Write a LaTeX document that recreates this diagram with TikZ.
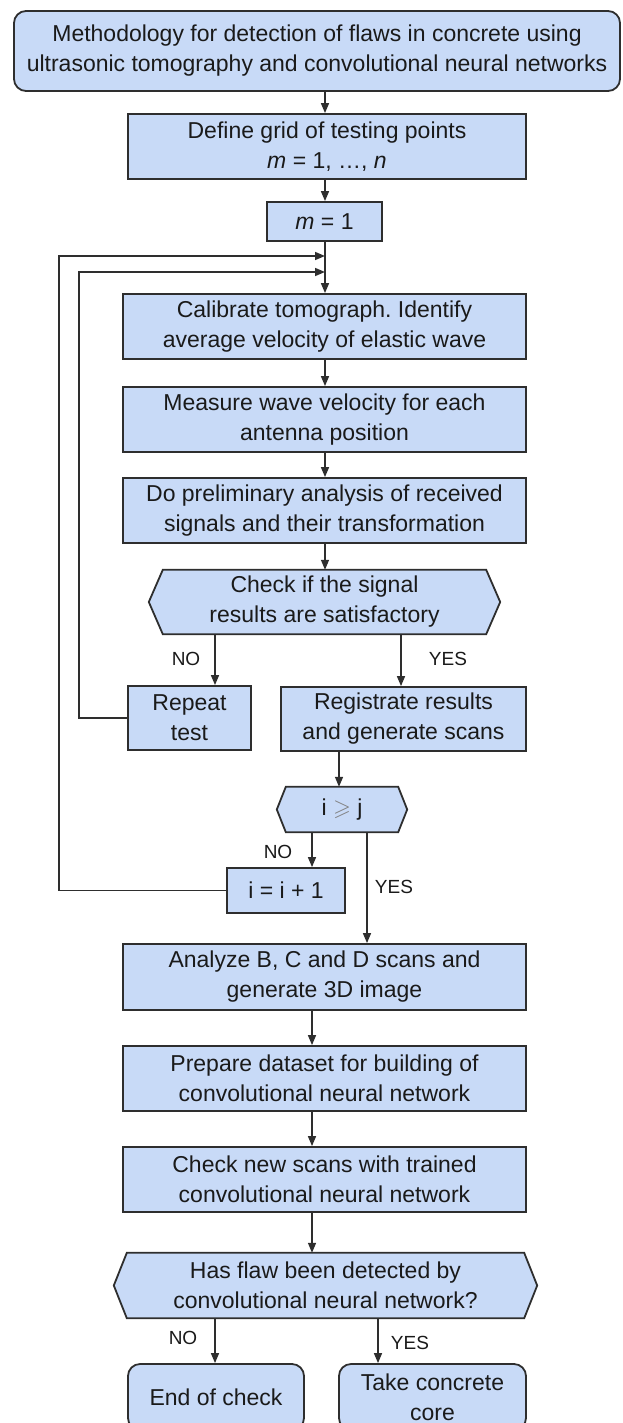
\documentclass[tikz,border=0pt]{standalone}
\usepackage{fontspec}
\setmainfont{Liberation Sans}
\usepackage{amssymb}
\usetikzlibrary{arrows.meta,calc}
\definecolor{boxfill}{HTML}{C8DAF7}
\definecolor{linec}{HTML}{2E2E2E}
\definecolor{txtc}{HTML}{1A1A1A}
\pgfdeclarelayer{bg}
\pgfsetlayers{bg,main}
\frenchspacing
\newcommand{\drawhexagon}[2]{%
  \begin{pgfonlayer}{bg}
  \draw[hexline] (#1.west) -- ($(#1.north west)+(#2,0)$) -- ($(#1.north east)+(-#2,0)$) -- (#1.east)
    -- ($(#1.south east)+(-#2,0)$) -- ($(#1.south west)+(#2,0)$) -- cycle;
  \end{pgfonlayer}}
\begin{document}
\begin{tikzpicture}[x=1pt,y=-1pt,
  box/.style={draw=linec,fill=boxfill,line width=1.8pt,inner sep=0pt,align=center,
    text=txtc,font=\fontsize{23}{30}\selectfont},
  hexnode/.style={inner sep=0pt,align=center,text=txtc,font=\fontsize{23}{30}\selectfont},
  hexline/.style={draw=linec,fill=boxfill,line width=1.8pt,line join=miter},
  lbl/.style={inner sep=0pt,text=txtc,font=\fontsize{19}{22}\selectfont},
  conn/.style={draw=linec,line width=1.5pt},
  arr/.style={conn,-{Triangle[length=10pt,width=8pt]}}]
\clip (0,0) rectangle (622,1423);
% nodes
\node[box,rounded corners=12pt,minimum width=606pt,minimum height=80pt] (title) at (317,51)
  {Methodology for detection of flaws in concrete using\\ultrasonic tomography and convolutional neural networks};
\node[box,minimum width=398pt,minimum height=65pt] (grid) at (327,146.5)
  {Define grid of testing points\\\textit{m} = 1, …, \textit{n}};
\node[box,minimum width=115pt,minimum height=39pt] (m1) at (324.5,221.5) {\textit{m} = 1};
\node[box,minimum width=403pt,minimum height=65pt] (cal) at (324.5,326.5)
  {Calibrate tomograph. Identify\\average velocity of elastic wave};
\node[box,minimum width=403pt,minimum height=65pt] (meas) at (324.5,419.5)
  {Measure wave velocity for each\\antenna position};
\node[box,minimum width=403pt,minimum height=65pt] (pre) at (324.5,510.5)
  {Do preliminary analysis of received\\signals and their transformation};
\node[hexnode,minimum width=351pt,minimum height=64pt] (chk) at (324.5,602)
  {Check if the signal\\results are satisfactory};
\drawhexagon{chk}{14}
\node[box,minimum width=123pt,minimum height=64pt] (rep) at (189.5,718) {Repeat\\test};
\node[box,minimum width=245pt,minimum height=64pt] (reg) at (403.5,719)
  {Registrate results\\and generate scans};
\node[hexnode,minimum width=130pt,minimum height=45pt] (ij) at (342,809.5)
  {i {\color{gray}$\geqslant$} j};
\drawhexagon{ij}{9}
\node[box,minimum width=118pt,minimum height=45pt] (inc) at (286,890.5) {i = i + 1};
\node[box,minimum width=403pt,minimum height=66pt] (ana) at (324.5,977)
  {Analyze B, C and D scans and\\generate 3D image};
\node[box,minimum width=403pt,minimum height=65pt] (prep) at (324.5,1078.5)
  {Prepare dataset for building of\\convolutional neural network};
\node[box,minimum width=403pt,minimum height=65pt] (cnew) at (324.5,1179.5)
  {Check new scans with trained\\convolutional neural network};
\node[hexnode,minimum width=423pt,minimum height=65pt] (flaw) at (325.5,1285.5)
  {Has flaw been detected by\\convolutional neural network?};
\drawhexagon{flaw}{13}
\node[box,rounded corners=12pt,minimum width=176pt,minimum height=66pt] (endc) at (216,1397) {End of check};
\node[box,rounded corners=12pt,minimum width=187pt,minimum height=66pt] (take) at (432.5,1397)
  {Take concrete\\core};
% labels
\node[lbl] (no1) at (186,659) {NO};
\node[lbl] (yes1) at (448,659) {YES};
\node[lbl] (no2) at (278,852) {NO};
\node[lbl] (yes2) at (394,887) {YES};
\node[lbl] (no3) at (183,1338) {NO};
\node[lbl] (yes3) at (410,1343) {YES};
% helper coordinates
\coordinate (cx) at (325,0);
\coordinate (j1) at (325,256);
\coordinate (j2) at (325,272);
\coordinate (lx1) at (59,0);
\coordinate (lx2) at (79,0);
\coordinate (xa) at (215,0);
\coordinate (xb) at (401,0);
\coordinate (xc) at (339,0);
\coordinate (xd) at (312,0);
\coordinate (xe) at (367,0);
\coordinate (xf) at (378,0);
% connectors
\draw[arr] (title.south -| cx) -- (grid.north -| cx);
\draw[arr] (grid.south -| cx) -- (m1.north -| cx);
\draw[arr] (m1.south -| cx) -- (cal.north -| cx);
\draw[arr] (cal.south -| cx) -- (meas.north -| cx);
\draw[arr] (meas.south -| cx) -- (pre.north -| cx);
\draw[arr] (pre.south -| cx) -- (chk.north -| cx);
\draw[arr] (chk.south -| xa) -- (rep.north -| xa);
\draw[arr] (chk.south -| xb) -- (reg.north -| xb);
\draw[arr] (rep.west) -- (rep.west -| lx2) |- (j2);
\draw[arr] (reg.south -| xc) -- (ij.north -| xc);
\draw[arr] (ij.south -| xd) -- (inc.north -| xd);
\draw[arr] (inc.west) -- (inc.west -| lx1) |- (j1);
\draw[arr] (ij.south -| xe) -- (ana.north -| xe);
\draw[arr] (ana.south -| xd) -- (prep.north -| xd);
\draw[arr] (prep.south -| xd) -- (cnew.north -| xd);
\draw[arr] (cnew.south -| xd) -- (flaw.north -| xd);
\draw[arr] (flaw.south -| xa) -- (endc.north -| xa);
\draw[arr] (flaw.south -| xf) -- (take.north -| xf);
\end{tikzpicture}
\end{document}
